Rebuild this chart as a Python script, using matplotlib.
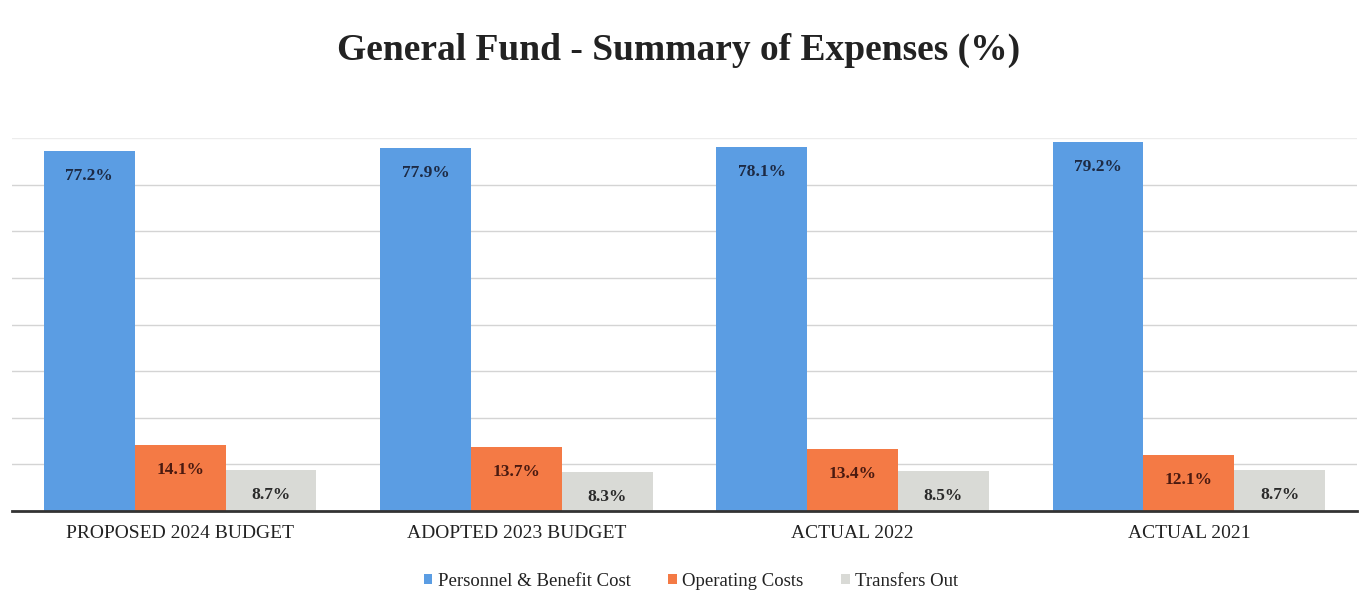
# General Fund expense mix by budget year, grouped bar chart
import numpy as np
import matplotlib.pyplot as plt

categories = ["PROPOSED 2024 BUDGET", "ADOPTED 2023 BUDGET", "ACTUAL 2022", "ACTUAL 2021"]
personnel = [77.2, 77.9, 78.1, 79.2]
operating = [14.1, 13.7, 13.4, 12.1]
transfers = [8.7, 8.3, 8.5, 8.7]

series_names = ["Personnel & Benefit Cost", "Operating Costs", "Transfers Out"]
colors = ["#5b9de3", "#f47a45", "#d9dad6"]
label_colors = ["#1d2a44", "#4a1a10", "#2a2a2a"]

plt.rcParams['font.family'] = ['Liberation Serif', 'DejaVu Serif']

fig = plt.figure(figsize=(13.65, 6.03), dpi=100)
ax = fig.add_axes([0.0088, 0.1526, 0.9853, 0.618])

x = np.arange(len(categories))
width = 0.27

for i, (vals, name) in enumerate(zip([personnel, operating, transfers], series_names)):
    pos = x + (i - 1) * width
    bars = ax.bar(pos, vals, width, color=colors[i], label=name, zorder=3)
    for b, v in zip(bars, vals):
        ax.annotate(f"{v}%", (b.get_x() + b.get_width() / 2, v),
                    textcoords="offset points", xytext=(0, -18),
                    ha='center', va='center', fontsize=12.5, fontweight='bold',
                    color=label_colors[i], zorder=4)

ax.set_xlim(-0.5, len(categories) - 0.5)
ax.set_ylim(0, 80)
ax.set_yticks(np.arange(0, 71, 10))
ax.yaxis.grid(True, color="#d4d4d4", linewidth=1.0, zorder=0)
ax.axhline(80, color="#ececec", linewidth=1.0, zorder=0)
ax.tick_params(axis='y', left=False, labelleft=False)
ax.tick_params(axis='x', length=0, pad=10, labelsize=14)
ax.set_xticks(x)
ax.set_xticklabels(categories, color="#222222")

for side in ['top', 'right', 'left']:
    ax.spines[side].set_visible(False)
ax.spines['bottom'].set_color("#333333")
ax.spines['bottom'].set_linewidth(2)
ax.spines['bottom'].set_zorder(5)

fig.text(0.497, 0.916, "General Fund - Summary of Expenses (%)",
         ha='center', va='center', fontsize=27, fontweight='bold', color="#222222")

ax.legend(loc='upper center', bbox_to_anchor=(0.505, -0.12), ncol=3, frameon=False,
          fontsize=13.5, handlelength=0.45, handleheight=0.45, handletextpad=0.3,
          columnspacing=2.0, labelcolor="#222222")

fig.savefig("out.png", dpi=100)
